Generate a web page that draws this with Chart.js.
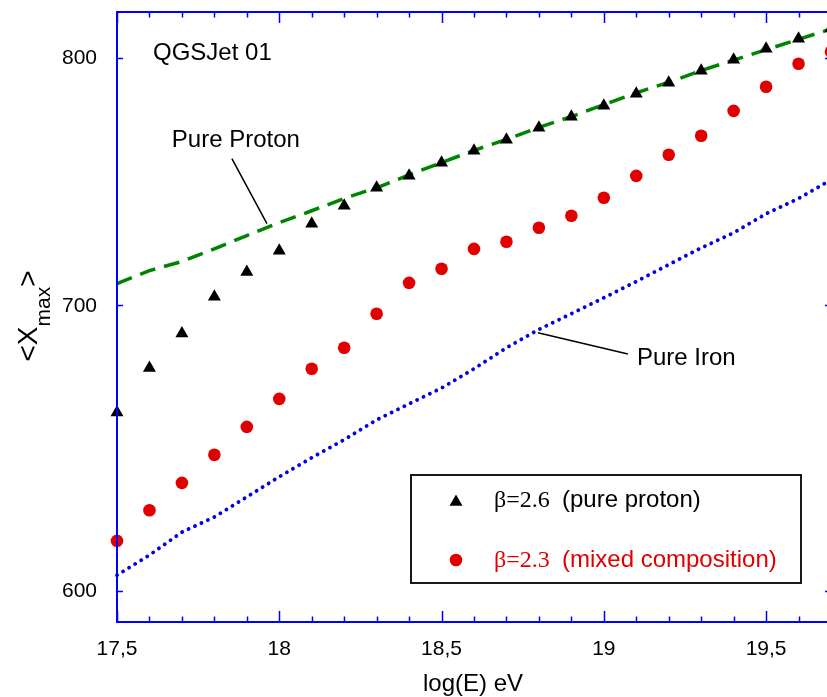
<!DOCTYPE html>
<html>
<head>
<meta charset="utf-8">
<script src="https://cdn.jsdelivr.net/npm/chart.js@4.4.0/dist/chart.umd.min.js"></script>
<style>
html, body { margin: 0; padding: 0; background: #fff; overflow: hidden; }
#wrap { width: 827px; height: 697px; overflow: hidden; }
</style>
</head>
<body>
<div id="wrap"><canvas id="xmaxChart" width="834" height="697"></canvas></div>
<script>
// log(E) eV
const energy = [17.5, 17.6, 17.7, 17.8, 17.9, 18.0, 18.1, 18.2, 18.3, 18.4, 18.5, 18.6,
                18.7, 18.8, 18.9, 19.0, 19.1, 19.2, 19.3, 19.4, 19.5, 19.6, 19.7];

// beta = 2.6 (pure proton) - triangles
const beta26 = [660.6, 676.7, 689.4, 703.2, 712.7, 720.9, 731.5, 738.6, 745.8, 750.6, 755.9, 760.8,
                765.4, 770.3, 774.9, 779.5, 784.6, 789.3, 794.4, 799.1, 803.9, 808.3, 813.0];

// beta = 2.3 (mixed composition) - circles
const beta23 = [616.4, 626.7, 636.0, 645.7, 655.5, 665.5, 676.4, 684.1, 696.8, 708.5, 713.9, 721.6,
                724.4, 729.9, 734.6, 741.8, 750.6, 759.2, 767.0, 777.4, 787.6, 797.4, 802.6];

// QGSJet 01 pure proton / pure iron curves
const pureProton = [708.2, 713.2, 716.7, 721.6, 726.8, 731.9, 736.6, 741.5, 745.8, 751.0, 756.0, 761.0,
                    765.5, 770.5, 775.0, 780.0, 785.0, 789.5, 794.5, 799.0, 803.5, 808.0, 812.5];
const pureIron = [605.1, 611.7, 619.3, 624.4, 631.2, 638.1, 644.7, 651.0, 658.0, 663.7, 669.4, 676.4,
                  684.1, 690.9, 696.8, 702.8, 709.0, 715.5, 722.0, 727.9, 735.4, 741.5, 749.0];

const xTicks = [17.5, 18, 18.5, 19, 19.5];
const xTickLabels = ['17,5', '18', '18,5', '19', '19,5'];
const yTicks = [600, 700, 800];
const yTickLabels = ['600', '700', '800'];

function pts(ys) {
    var out = [];
    for (var i = 0; i < energy.length; i++) {
        out.push({x: energy[i], y: ys[i]});
    }
    return out;
}

const SANS = '"Liberation Sans", Arial, sans-serif';
const SERIF = '"Liberation Serif", "Times New Roman", serif';
const AXIS_BLUE = '#0000ff';
const RED = '#e00000';

// axes frame, ticks, labels, notes and legend box
const decorations = {
    id: 'decorations',
    afterDraw(chart) {
        const ctx = chart.ctx;
        const a = chart.chartArea;
        const xs = chart.scales.x;
        const ys = chart.scales.y;
        ctx.save();

        // frame
        ctx.strokeStyle = AXIS_BLUE;
        ctx.lineWidth = 2;
        ctx.beginPath();
        ctx.moveTo(a.left, a.top);
        ctx.lineTo(a.left, a.bottom);
        ctx.lineTo(a.right, a.bottom);
        ctx.lineTo(a.right, a.top);
        ctx.closePath();
        ctx.stroke();

        // x ticks (bottom and top, pointing inward)
        ctx.lineWidth = 1.5;
        ctx.beginPath();
        for (var k = 0; k <= 22; k++) {
            var v = 17.5 + k * 0.1;
            var px = Math.round(xs.getPixelForValue(v)) + 0.5;
            var len = (k % 5 === 0) ? 11 : 5.5;
            ctx.moveTo(px, a.bottom);
            ctx.lineTo(px, a.bottom - len);
            ctx.moveTo(px, a.top);
            ctx.lineTo(px, a.top + len);
        }
        // y ticks (left and right)
        yTicks.forEach(function(t) {
            var py = Math.round(ys.getPixelForValue(t)) + 0.5;
            ctx.moveTo(a.left, py);
            ctx.lineTo(a.left + 6, py);
            ctx.moveTo(a.right, py);
            ctx.lineTo(a.right - 6, py);
        });
        ctx.stroke();

        // tick labels
        ctx.fillStyle = '#000';
        ctx.font = '21px ' + SANS;
        ctx.textAlign = 'center';
        ctx.textBaseline = 'alphabetic';
        xTicks.forEach(function(t, i) {
            ctx.fillText(xTickLabels[i], xs.getPixelForValue(t), a.bottom + 33);
        });
        ctx.textAlign = 'right';
        yTicks.forEach(function(t, i) {
            ctx.fillText(yTickLabels[i], a.left - 20, ys.getPixelForValue(t) + 6.5);
        });

        // x title
        ctx.textAlign = 'center';
        ctx.font = '24px ' + SANS;
        ctx.fillText('log(E) eV', 473, a.bottom + 69);

        // y title <X_max>, rotated
        ctx.save();
        ctx.translate(37, 316);
        ctx.rotate(-Math.PI / 2);
        ctx.textAlign = 'left';
        var big = '28px ' + SANS, small = '21px ' + SANS;
        ctx.font = big;
        var w1 = ctx.measureText('<X').width;
        var w3 = ctx.measureText('>').width;
        ctx.font = small;
        var w2 = ctx.measureText('max').width;
        var u = -(w1 + w2 + w3) / 2;
        ctx.font = big;
        ctx.fillText('<X', u, 0);
        ctx.font = small;
        ctx.fillText('max', u + w1, 13);
        ctx.font = big;
        ctx.fillText('>', u + w1 + w2, 0);
        ctx.restore();

        // notes
        ctx.textAlign = 'left';
        ctx.font = '24px ' + SANS;
        ctx.fillText('QGSJet 01', xs.getPixelForValue(17.611), ys.getPixelForValue(799.1));
        ctx.fillText('Pure Proton', xs.getPixelForValue(17.669), ys.getPixelForValue(762.5));
        ctx.fillText('Pure Iron', xs.getPixelForValue(19.102), ys.getPixelForValue(677.7));
        ctx.strokeStyle = '#000';
        ctx.lineWidth = 1.5;
        ctx.beginPath();
        ctx.moveTo(xs.getPixelForValue(17.854), ys.getPixelForValue(757.6));
        ctx.lineTo(xs.getPixelForValue(17.962), ys.getPixelForValue(731.5));
        ctx.moveTo(xs.getPixelForValue(18.797), ys.getPixelForValue(689.7));
        ctx.lineTo(xs.getPixelForValue(19.074), ys.getPixelForValue(681.8));
        ctx.stroke();

        // legend box
        var bx = 411, by = 475, bw = 390, bh = 108;
        ctx.fillStyle = '#fff';
        ctx.fillRect(bx, by, bw, bh);
        ctx.strokeStyle = '#000';
        ctx.lineWidth = 1.8;
        ctx.strokeRect(bx, by, bw, bh);

        // legend markers
        var mx = 456;
        ctx.fillStyle = '#000';
        ctx.beginPath();
        ctx.moveTo(mx, 502 - 7.5);
        ctx.lineTo(mx + 6.5, 502 + 3.75);
        ctx.lineTo(mx - 6.5, 502 + 3.75);
        ctx.closePath();
        ctx.fill();
        ctx.fillStyle = RED;
        ctx.beginPath();
        ctx.arc(mx, 560, 6.3, 0, Math.PI * 2);
        ctx.fill();

        // legend texts
        ctx.fillStyle = '#000';
        ctx.font = '24px ' + SERIF;
        ctx.fillText('\u03b2=2.6', 494, 507);
        ctx.font = '24px ' + SANS;
        ctx.fillText('(pure proton)', 562, 507);
        ctx.fillStyle = RED;
        ctx.font = '24px ' + SERIF;
        ctx.fillText('\u03b2=2.3', 494, 567);
        ctx.font = '24px ' + SANS;
        ctx.fillText('(mixed composition)', 562, 567);

        ctx.restore();
    }
};

const ctx = document.getElementById('xmaxChart');
const xmaxChart = new Chart(ctx, {
    type: 'scatter',
    data: {
        datasets: [
            {
                label: 'Pure Iron',
                data: pts(pureIron),
                showLine: true,
                borderColor: '#0000e6',
                borderWidth: 3.8,
                borderDash: [0.1, 7],
                borderCapStyle: 'round',
                pointRadius: 0,
                fill: false,
                clip: false,
                order: 4
            },
            {
                label: 'Pure Proton',
                data: pts(pureProton),
                showLine: true,
                borderColor: '#008400',
                borderWidth: 3.5,
                borderDash: [16, 9],
                pointRadius: 0,
                fill: false,
                clip: false,
                order: 3
            },
            {
                label: '\u03b2=2.3 (mixed composition)',
                data: pts(beta23),
                pointStyle: 'circle',
                pointRadius: 6.3,
                pointBorderWidth: 0,
                backgroundColor: RED,
                borderColor: RED,
                clip: false,
                order: 2
            },
            {
                label: '\u03b2=2.6 (pure proton)',
                data: pts(beta26),
                pointStyle: 'triangle',
                pointRadius: 7.5,
                pointBorderWidth: 0,
                backgroundColor: '#000',
                borderColor: '#000',
                clip: false,
                order: 1
            }
        ]
    },
    options: {
        responsive: false,
        animation: false,
        devicePixelRatio: 1,
        layout: {
            autoPadding: false,
            padding: {left: 117, top: 12, right: 3, bottom: 75}
        },
        plugins: {
            legend: {display: false},
            tooltip: {enabled: false}
        },
        scales: {
            x: {
                type: 'linear',
                min: 17.5,
                max: 19.7,
                bounds: 'data',
                display: false
            },
            y: {
                type: 'logarithmic',
                min: 590,
                max: 820,
                bounds: 'data',
                display: false
            }
        }
    },
    plugins: [decorations]
});
</script>
</body>
</html>
